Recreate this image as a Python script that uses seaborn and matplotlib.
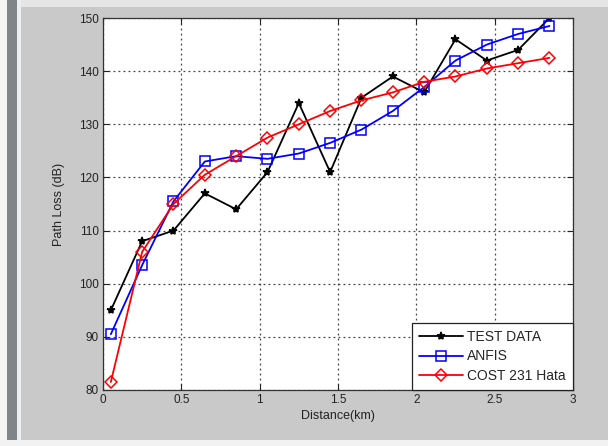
import matplotlib
matplotlib.use("Agg")
import matplotlib.pyplot as plt
import matplotlib.patches as mpatches
import seaborn as sns
import pandas as pd

# Measured path loss versus distance, with ANFIS and COST 231 Hata predictions
distance_km = [0.05, 0.25, 0.45, 0.65, 0.85, 1.05, 1.25, 1.45,
               1.65, 1.85, 2.05, 2.25, 2.45, 2.65, 2.85]
test_data = [95, 108, 110, 117, 114, 121, 134, 121,
             135, 139, 136, 146, 142, 144, 150]
anfis = [90.5, 103.5, 115.5, 123, 124, 123.5, 124.5, 126.5,
         129, 132.5, 137, 142, 145, 147, 148.5]
cost231 = [81.5, 106, 115, 120.5, 124, 127.5, 130, 132.5,
           134.5, 136, 138, 139, 140.5, 141.5, 142.5]

series_names = ["TEST DATA", "ANFIS", "COST 231 Hata"]
x_ticks = [0, 0.5, 1, 1.5, 2, 2.5, 3]
x_tick_labels = ["0", "0.5", "1", "1.5", "2", "2.5", "3"]
y_ticks = [80, 90, 100, 110, 120, 130, 140, 150]

sns.set_theme(style="white")
plt.rcParams["font.family"] = ["Liberation Sans", "DejaVu Sans"]

fig = plt.figure(figsize=(6.08, 4.46), dpi=100)
fig.patch.set_facecolor("#c9c9c9")

# window chrome on the left edge and bottom strip
fig.patches.append(mpatches.Rectangle((0, 0), 0.011, 1, transform=fig.transFigure,
                                      facecolor="#f4f4f4", edgecolor="none", zorder=0))
fig.patches.append(mpatches.Rectangle((0.011, 0), 0.017, 1, transform=fig.transFigure,
                                      facecolor="#7f8588", edgecolor="none", zorder=0))
fig.patches.append(mpatches.Rectangle((0.028, 0), 0.006, 1, transform=fig.transFigure,
                                      facecolor="#eeeeee", edgecolor="none", zorder=0))
fig.patches.append(mpatches.Rectangle((0, 0), 1, 0.014, transform=fig.transFigure,
                                      facecolor="#f2f2f2", edgecolor="none", zorder=0))
fig.patches.append(mpatches.Rectangle((0.034, 0.985), 1, 0.015, transform=fig.transFigure,
                                      facecolor="#e6e6e6", edgecolor="none", zorder=0))

ax = fig.add_axes([0.1694, 0.1256, 0.773, 0.834])
ax.set_facecolor("white")

df = pd.DataFrame({
    "Distance": distance_km * 3,
    "PathLoss": test_data + anfis + cost231,
    "Series": [series_names[0]] * len(distance_km)
              + [series_names[1]] * len(distance_km)
              + [series_names[2]] * len(distance_km),
})

styles = {
    "TEST DATA": dict(color="black", marker="*", markersize=6,
                      markerfacecolor="black", markeredgecolor="black"),
    "ANFIS": dict(color="#0000ff", marker="s", markersize=7,
                  markerfacecolor="none", markeredgecolor="#0000ff"),
    "COST 231 Hata": dict(color="#ff0000", marker="D", markersize=6,
                          markerfacecolor="none", markeredgecolor="#ff0000"),
}

for name in series_names:
    sub = df[df["Series"] == name]
    st = styles[name]
    sns.lineplot(data=sub, x="Distance", y="PathLoss", ax=ax, label=name,
                 linewidth=1.3, markeredgewidth=1.1, estimator=None, **st)

ax.set_xlim(0, 3)
ax.set_ylim(80, 150)
ax.set_xticks(x_ticks)
ax.set_xticklabels(x_tick_labels)
ax.set_yticks(y_ticks)
ax.tick_params(direction="in", length=4, width=0.8, colors="#222222",
               labelsize=8.5, top=True, right=True, bottom=True, left=True,
               pad=3)
ax.grid(True, color="#444444", linestyle=(0, (1.5, 2.5)), linewidth=0.9)
for s in ax.spines.values():
    s.set_visible(True)
    s.set_color("#333333")
    s.set_linewidth(0.9)

ax.set_xlabel("Distance(km)", fontsize=9, color="#222222", labelpad=3)
ax.set_ylabel("Path Loss (dB)", fontsize=9, color="#222222", labelpad=10)

leg = ax.legend(loc="lower right", borderaxespad=0, frameon=True, fancybox=False,
                fontsize=10, handlelength=3.2, handletextpad=0.3,
                labelspacing=0.4, borderpad=0.5)
leg.get_frame().set_edgecolor("#222222")
leg.get_frame().set_linewidth(0.9)
leg.get_frame().set_facecolor("white")
leg.get_frame().set_alpha(1)

fig.savefig("out.png", dpi=100, facecolor=fig.get_facecolor())
